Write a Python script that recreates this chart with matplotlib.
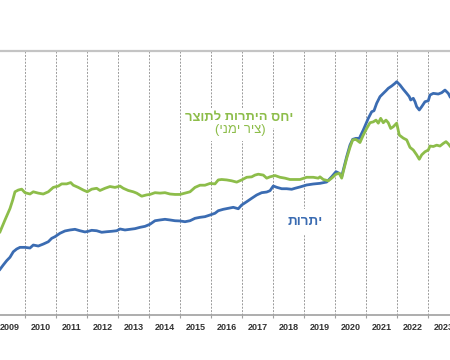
import matplotlib
matplotlib.use("Agg")
import matplotlib.pyplot as plt
from matplotlib.ticker import FixedLocator, NullFormatter, FixedFormatter

# ---- data (decimal year, value) ----
res_t = [2009.194, 2009.300, 2009.410, 2009.516, 2009.623, 2009.732, 2009.839, 2010.000,
         2010.161, 2010.268, 2010.429, 2010.590, 2010.752, 2010.861, 2010.968, 2011.129,
         2011.290, 2011.452, 2011.613, 2011.774, 2011.935, 2012.042, 2012.152, 2012.313,
         2012.474, 2012.635, 2012.797, 2012.958, 2013.065, 2013.226, 2013.387, 2013.548,
         2013.710, 2013.871, 2014.032, 2014.194, 2014.355, 2014.516, 2014.677, 2014.839,
         2015.000, 2015.161, 2015.323, 2015.484, 2015.645, 2015.806, 2015.968, 2016.129,
         2016.235, 2016.397, 2016.558, 2016.719, 2016.881, 2016.990, 2017.152, 2017.313,
         2017.474, 2017.635, 2017.797, 2017.903, 2018.010, 2018.119, 2018.281, 2018.442,
         2018.603, 2018.710, 2018.871, 2019.087, 2019.300, 2019.516, 2019.732, 2019.894,
         2020.032, 2020.139, 2020.216, 2020.268, 2020.377, 2020.484, 2020.571, 2020.677,
         2020.784, 2020.913, 2021.074, 2021.184, 2021.258, 2021.345, 2021.452, 2021.558,
         2021.645, 2021.719, 2021.829, 2021.935, 2021.990, 2022.097, 2022.203, 2022.313,
         2022.397, 2022.442, 2022.526, 2022.581, 2022.635, 2022.719, 2022.797, 2022.903,
         2023.010, 2023.065, 2023.171, 2023.332, 2023.442, 2023.548, 2023.655, 2023.710]
reserves = [41.5, 45.5, 49.4, 52.5, 57.5, 60.0, 61.5, 61.5,
            60.9, 63.6, 62.7, 64.5, 66.6, 69.7, 71.2, 74.3,
            76.4, 77.3, 77.9, 76.6, 75.5, 76.1, 77.0, 76.6,
            75.2, 75.7, 76.1, 76.6, 78.2, 77.3, 77.9, 78.5,
            79.7, 80.6, 82.5, 85.7, 86.4, 87.0, 86.4, 85.7,
            85.5, 84.8, 85.7, 87.9, 88.8, 89.4, 90.9, 92.5,
            94.8, 96.1, 97.0, 97.9, 96.6, 100.0, 103.0, 106.1,
            109.1, 111.2, 111.8, 113.0, 117.3, 116.1, 114.8, 114.8,
            114.3, 115.2, 116.4, 118.2, 119.1, 119.7, 120.9, 125.7,
            130.3, 128.8, 125.7, 131.8, 143.9, 154.5, 159.7, 160.6,
            160.6, 168.2, 178.8, 184.8, 185.7, 192.5, 198.5, 201.5,
            203.9, 206.1, 208.2, 210.6, 212.1, 209.1, 205.2, 201.5,
            198.5, 195.5, 197.0, 193.9, 189.4, 186.4, 189.4, 193.9,
            194.8, 200.0, 201.5, 200.9, 202.1, 204.5, 201.5, 198.5]

ratio_t = [2009.194, 2009.355, 2009.516, 2009.603, 2009.677, 2009.784, 2009.894, 2010.000,
           2010.161, 2010.268, 2010.429, 2010.590, 2010.752, 2010.913, 2011.074, 2011.184,
           2011.345, 2011.474, 2011.558, 2011.719, 2011.881, 2012.010, 2012.152, 2012.313,
           2012.419, 2012.581, 2012.742, 2012.903, 2013.065, 2013.171, 2013.332, 2013.494,
           2013.603, 2013.765, 2013.926, 2014.032, 2014.194, 2014.355, 2014.516, 2014.677,
           2014.839, 2015.000, 2015.161, 2015.323, 2015.484, 2015.645, 2015.806, 2015.968,
           2016.129, 2016.235, 2016.345, 2016.506, 2016.668, 2016.829, 2016.990, 2017.152,
           2017.313, 2017.419, 2017.526, 2017.687, 2017.797, 2017.903, 2018.065, 2018.226,
           2018.387, 2018.548, 2018.710, 2018.871, 2019.087, 2019.300, 2019.461, 2019.516,
           2019.623, 2019.784, 2019.894, 2020.032, 2020.139, 2020.216, 2020.268, 2020.377,
           2020.484, 2020.571, 2020.677, 2020.806, 2020.913, 2021.023, 2021.129, 2021.235,
           2021.323, 2021.397, 2021.474, 2021.558, 2021.645, 2021.719, 2021.797, 2021.881,
           2021.990, 2022.074, 2022.203, 2022.313, 2022.419, 2022.526, 2022.635, 2022.719,
           2022.797, 2022.903, 2023.010, 2023.065, 2023.171, 2023.281, 2023.387, 2023.494,
           2023.581, 2023.655, 2023.710]
ratio = [18.9, 21.6, 24.2, 26.1, 28.0, 28.4, 28.6, 27.8,
         27.5, 28.0, 27.7, 27.5, 28.0, 29.0, 29.3, 29.8,
         29.8, 30.1, 29.5, 29.0, 28.4, 28.0, 28.6, 28.8,
         28.3, 28.8, 29.2, 29.0, 29.3, 28.8, 28.3, 28.0,
         27.7, 27.0, 27.3, 27.4, 27.8, 27.7, 27.8, 27.5,
         27.4, 27.4, 27.7, 28.0, 29.0, 29.5, 29.5, 29.9,
         29.8, 30.7, 30.8, 30.7, 30.5, 30.2, 30.7, 31.3,
         31.4, 31.8, 32.0, 31.8, 31.1, 31.4, 31.7, 31.3,
         31.1, 30.8, 30.8, 30.8, 31.3, 31.3, 31.1, 31.4,
         30.8, 30.5, 31.1, 32.0, 32.2, 31.1, 32.6, 35.6,
         38.1, 39.8, 39.9, 39.2, 40.9, 42.4, 43.7, 43.9,
         44.3, 43.6, 44.7, 43.7, 44.3, 43.7, 42.4, 42.8,
         43.6, 40.9, 40.2, 39.8, 38.1, 37.5, 36.4, 35.4,
         36.4, 37.1, 37.5, 38.4, 38.3, 38.6, 38.4, 39.0,
         39.4, 38.9, 38.4]

years = list(range(2009, 2024))
year_labels = [str(y) for y in years]

label_ratio_1 = "רצותל תורתיה סחי"   # יחס היתרות לתוצר (visual order)
label_ratio_2 = "(ינמי ריצ)"          # (ציר ימני)
label_res = "תורתי"                   # יתרות

BLUE = "#3B6CB2"
GREEN = "#8DBD4A"

plt.rcParams['font.family'] = ['Liberation Sans', 'DejaVu Sans']

fig = plt.figure(figsize=(4.5, 3.6), dpi=100)
ax = fig.add_axes([0.0, 0.125, 1.0, 0.7333])
ax2 = ax.twinx()

ax.set_xlim(2009.194, 2023.71)
ax.set_ylim(0, 240)
ax2.set_ylim(0, 60)

ax.plot(res_t, reserves, color=BLUE, lw=2.0, zorder=3, solid_joinstyle='round')
ax2.plot(ratio_t, ratio, color=GREEN, lw=2.0, zorder=3, solid_joinstyle='round')

# x ticks: boundaries (major, with grid) and labels in the middle (minor)
ax.xaxis.set_major_locator(FixedLocator([y for y in range(2010, 2024)]))
ax.xaxis.set_major_formatter(NullFormatter())
ax.xaxis.set_minor_locator(FixedLocator([y + 0.5 for y in years]))
ax.xaxis.set_minor_formatter(FixedFormatter(year_labels))
ax.tick_params(axis='x', which='major', length=2.5, width=0.8, color='#A0A0A0', direction='out')
ax.tick_params(axis='x', which='minor', length=0, pad=6, labelsize=6.5,
               labelcolor='#333333')
for lab in ax.get_xticklabels(minor=True):
    lab.set_fontweight('bold')
ax.grid(axis='x', which='major', color='#9A9A9A', lw=0.7, ls=(0, (2, 1.5)), zorder=0)
ax.set_axisbelow(True)

for a in (ax, ax2):
    a.set_yticks([])
    for s in ('left', 'right', 'bottom', 'top'):
        a.spines[s].set_visible(False)
ax.spines['bottom'].set_visible(True)
ax.spines['bottom'].set_color('#A0A0A0')
ax.spines['bottom'].set_linewidth(1.2)
ax.spines['top'].set_visible(True)
ax.spines['top'].set_color('#C4C4C4')
ax.spines['top'].set_linewidth(1.6)

bb = dict(facecolor='white', edgecolor='none', pad=3)
ax.text(0.532, 0.746, label_ratio_1, transform=ax.transAxes, ha='center', va='center',
        fontsize=9.4, fontweight='bold', color=GREEN, bbox=bb, zorder=2)
ax.text(0.534, 0.699, label_ratio_2, transform=ax.transAxes, ha='center', va='center',
        fontsize=9.4, color=GREEN, bbox=bb, zorder=2)
ax.text(0.678, 0.353, label_res, transform=ax.transAxes, ha='center', va='center',
        fontsize=9.6, fontweight='bold', color=BLUE,
        bbox=dict(facecolor='white', edgecolor='none', pad=5), zorder=2)

fig.savefig("out.png", dpi=100)
